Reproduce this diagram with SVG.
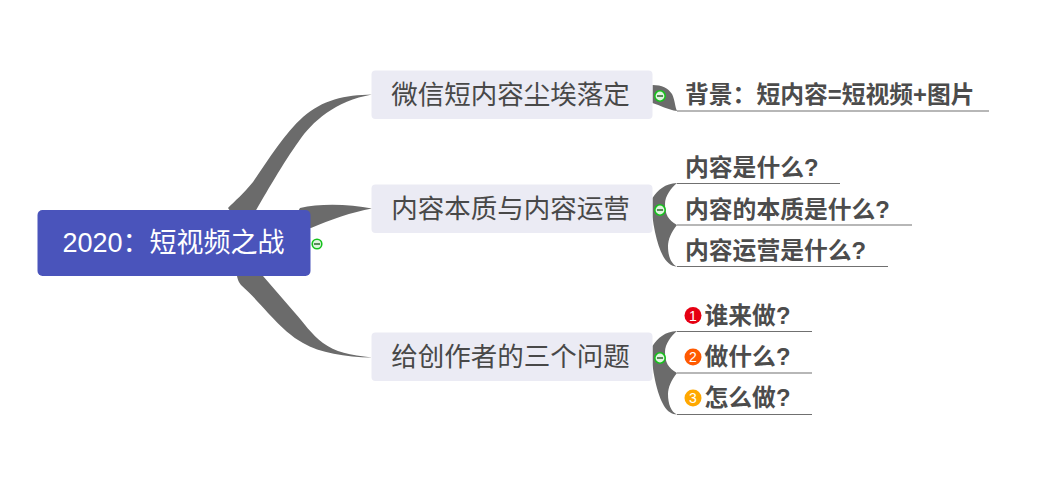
<svg xmlns="http://www.w3.org/2000/svg" width="1057" height="479" viewBox="0 0 1057 479">
<style>
text{font-family:"Liberation Sans","Noto Sans CJK SC",sans-serif}
.t{font-size:26.500px;fill:#484848;text-anchor:middle}
.s{font-size:23.800px;font-weight:700;fill:#4c4c4c}
.c{fill:#6b6b6b}
.l{stroke:#707070;stroke-width:1.2;fill:none}
.box{fill:#ebebf4}
.cb{fill:#dff5df;stroke:#16c11c;stroke-width:1.6}
.cm{stroke:#5a8a5a;stroke-width:2}
.n{font-size:14px;fill:#fff;text-anchor:middle}
</style>
<rect width="1057" height="479" fill="#fff"/>
<g id="connectors">
<path class="c" d="M372 94.500C345 95 322 100 303 117C285 133 268 160 253 182C243 194 235 201 228 208L240 225L255 212C265 195 283 163 299 141C312 122 335 101 372 94.500Z"/>
<path class="c" d="M372 208.500C350 204 320 203 300 208L290 225L311 228C330 220 352 212 372 208.500Z"/>
<path class="c" d="M372 357.500C350 355 335 352 323 343C312 335 303 322 295 313L263 276L237 276C238 281 239 282 241 285C250 293 260 304 268 313C282 328 292 337 303 343C320 353 345 357 372 357.500Z"/>
<path class="c" d="M652.500 85C662 85 668 88 672 94C675 100 675 107 677 111C668 110 660 105 652.500 103Z"/>
<path class="c" d="M652.500 198C658 190 665 183.500 677 183C671 188 665 196 665 204C665 214 668 220 677 225C671 232 668 240 668 246C668 256 671 264 677 266.500C667 266.500 660 255 655 232C654 227 653 222 652.500 217Z"/>
<path class="c" d="M652.500 346C658 338 665 331.500 677 331C671 336 665 344 665 352C665 362 668 368 677 373C671 380 668 388 668 394C668 404 671 412 677 414.500C667 414.500 660 403 655 380C654 375 653 370 652.500 365Z"/>
<path class="l" d="M677 111H989M677 183.500H840M677 225H912M677 266.500H888M677 331.500H812M677 373H812M677 414.500H812"/>
</g>
<g id="root">
<rect x="37.500" y="210" width="273" height="66" rx="5" fill="#4a54bb"/>
<text x="173.500" y="252" font-size="27" fill="#fff" text-anchor="middle">2020：短视频之战</text>
<circle class="cb" cx="317" cy="244" r="4.800"/><path class="cm" d="M314 244H320"/>
</g>
<g id="topic1">
<rect class="box" x="371.500" y="70.500" width="281" height="48.500" rx="4"/>
<text class="t" x="510.500" y="104">微信短内容尘埃落定</text>
<circle class="cb" cx="660" cy="96" r="5.200"/><path class="cm" d="M657 96H663"/>
</g>
<g id="topic2">
<rect class="box" x="371.500" y="184.500" width="281" height="48.500" rx="4"/>
<text class="t" x="510.500" y="218">内容本质与内容运营</text>
<circle class="cb" cx="660" cy="210" r="5.200"/><path class="cm" d="M657 210H663"/>
</g>
<g id="topic3">
<rect class="box" x="371.500" y="332.500" width="281" height="48.500" rx="4"/>
<text class="t" x="510.500" y="366">给创作者的三个问题</text>
<circle class="cb" cx="660" cy="358" r="5.200"/><path class="cm" d="M657 358H663"/>
</g>
<g id="sub1"><text class="s" x="685" y="103">背景：短内容=短视频+图片</text></g>
<g id="sub2"><text class="s" x="685" y="176">内容是什么?</text></g>
<g id="sub3"><text class="s" x="685" y="218">内容的本质是什么?</text></g>
<g id="sub4"><text class="s" x="685" y="259">内容运营是什么?</text></g>
<g id="sub5"><circle cx="693" cy="315.500" r="8.500" fill="#e60012"/><text class="n" x="693" y="320.500">1</text><text class="s" x="704.500" y="324">谁来做?</text></g>
<g id="sub6"><circle cx="693" cy="357" r="8.500" fill="#ff5a00"/><text class="n" x="693" y="362">2</text><text class="s" x="704.500" y="365">做什么?</text></g>
<g id="sub7"><circle cx="693" cy="398" r="8.500" fill="#ffa800"/><text class="n" x="693" y="403">3</text><text class="s" x="704.500" y="406">怎么做?</text></g>
</svg>
